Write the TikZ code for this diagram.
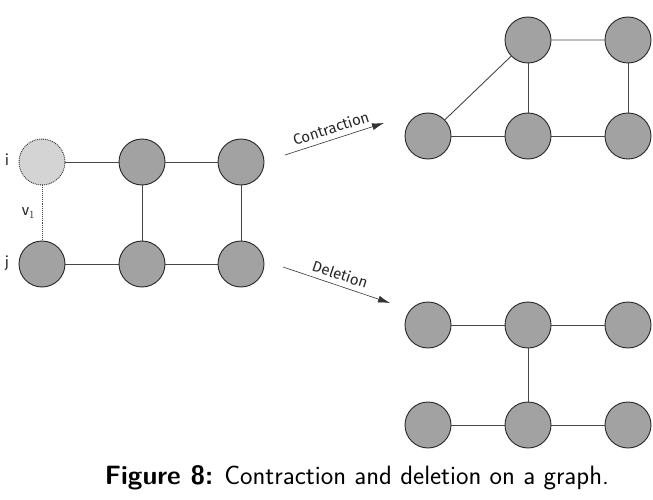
\documentclass[tikz,border=0pt]{standalone}
\usepackage{fontspec}
\newfontfamily\labelfont{Fira Sans}
\usetikzlibrary{arrows.meta}
\definecolor{nodegray}{RGB}{162,162,162}
\definecolor{ghostgray}{RGB}{212,212,212}
\definecolor{edgegray}{RGB}{70,70,70}
\tikzset{
	vertex/.style={circle, draw=black!85, fill=nodegray, line width=0.9pt, minimum size=46pt, inner sep=0pt},
	ghost/.style={vertex, fill=ghostgray, densely dotted},
	edge/.style={draw=edgegray, line width=0.9pt},
	opArrow/.style={draw=black!80, line width=0.6pt, -{Latex[length=12pt,width=7pt]}},
	opLabel/.style={font=\labelfont\fontsize{15}{18}\selectfont, text=black!85}
}

\begin{document}
\begin{tikzpicture}[x=1pt, y=-1pt]
			% The page is fixed to the size of the reference picture
			\useasboundingbox (0, 0) rectangle (653, 500);

			% The starting graph. The vertex i is drawn dotted and lighter, since it is the one that gets merged into j
			\node[ghost]  (i)  at (42, 162) {};
			\node[vertex] (a1) at (142, 162) {};
			\node[vertex] (a2) at (241, 162) {};
			\node[vertex] (j)  at (42, 264) {};
			\node[vertex] (b1) at (142, 264) {};
			\node[vertex] (b2) at (241, 264) {};
			\node[opLabel] at (7, 160) {i};
			\node[opLabel] at (7, 263) {j};
			% The edge v_1 which joins i and j, drawn dotted
			\draw[edge, densely dotted] (i) -- (j) node[midway, left=3pt, opLabel] {v$_1$};
			\draw[edge] (i) -- (a1) -- (a2);
			\draw[edge] (j) -- (b1) -- (b2);
			\draw[edge] (a1) -- (b1);
			\draw[edge] (a2) -- (b2);

			% The two operations, each drawn as a slanted arrow with its name written along it
			\coordinate (cFrom) at (285, 155);
			\coordinate (cTo)   at (384, 123);
			\draw[opArrow] (cFrom) -- (cTo) node[midway, above=2pt, sloped, opLabel] {Contraction};
			\coordinate (dFrom) at (283, 267);
			\coordinate (dTo)   at (390, 303);
			\draw[opArrow] (dFrom) -- (dTo) node[midway, above=2pt, sloped, opLabel] {Deletion};

			% The graph after contraction: i and j have become one vertex
			\node[vertex] (ck)  at (428, 136) {};
			\node[vertex] (ct1) at (528, 40) {};
			\node[vertex] (ct2) at (628, 40) {};
			\node[vertex] (cb1) at (528, 136) {};
			\node[vertex] (cb2) at (628, 136) {};
			\draw[edge] (ck) -- (ct1) -- (ct2);
			\draw[edge] (ck) -- (cb1) -- (cb2);
			\draw[edge] (ct1) -- (cb1);
			\draw[edge] (ct2) -- (cb2);

			% The graph after deletion: the edges at i are gone with it
			\node[vertex] (dt0) at (428, 325) {};
			\node[vertex] (dt1) at (528, 325) {};
			\node[vertex] (dt2) at (628, 325) {};
			\node[vertex] (db0) at (428, 425) {};
			\node[vertex] (db1) at (528, 425) {};
			\node[vertex] (db2) at (628, 425) {};
			\draw[edge] (dt0) -- (dt1) -- (dt2);
			\draw[edge] (db0) -- (db1) -- (db2);
			\draw[edge] (dt1) -- (db1);

			% Caption
			\node[font=\sffamily\fontsize{26.5}{30}\selectfont] (caption) at (357, 478) {\textbf{Figure 8:} Contraction and deletion on a graph.};
\end{tikzpicture}
\end{document}
